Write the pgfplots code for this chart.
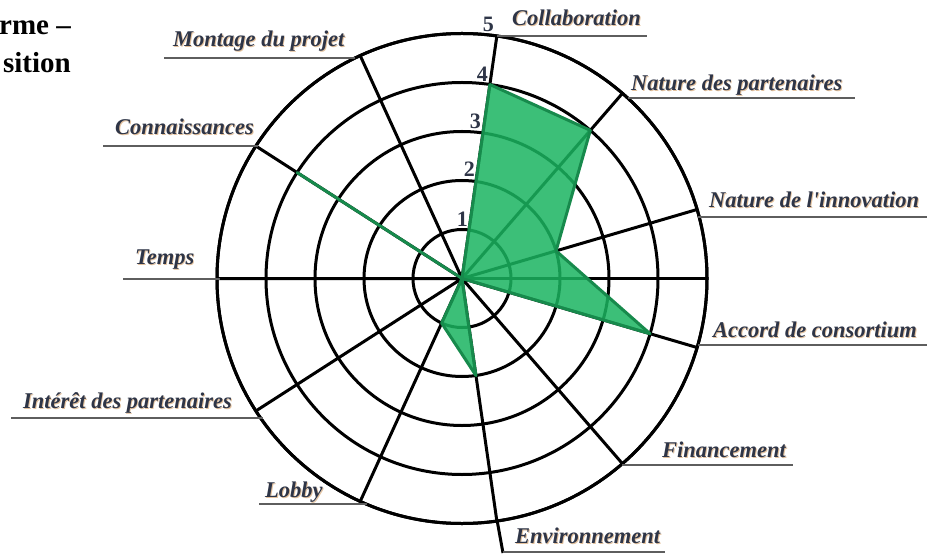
\documentclass[border=0pt]{standalone}
\usepackage{fontspec}
\setmainfont{Liberation Serif}
\usepackage{pgfplots}
\pgfplotsset{compat=1.18}
\usepgfplotslibrary{polar}

\definecolor{gfill}{HTML}{1AB460}
\definecolor{gedge}{HTML}{178A4C}
\definecolor{lblc}{HTML}{2E3547}
\definecolor{shc}{HTML}{C8843C}
\definecolor{ulc}{HTML}{5E5E5E}

% label with a faint orange shadow, anchored at its baseline
\newcommand\lab[3]{%
  \node[anchor=base west, inner sep=0pt, text=shc, opacity=0.5,
        font=\fontsize{22.5}{25}\selectfont\bfseries\itshape] at (#1+0.8,#2+0.8) {#3};
  \node[anchor=base west, inner sep=0pt, text=lblc,
        font=\fontsize{22.5}{25}\selectfont\bfseries\itshape] at (#1,#2) {#3};}
\newcommand\ringlab[3]{%
  \node[anchor=base east, inner sep=0pt, text=lblc,
        font=\fontsize{22}{24}\selectfont\bfseries] at (#1,#2) {#3};}

\begin{document}
\begin{tikzpicture}[x=1pt,y=1pt]
\path[use as bounding box] (0,0) rectangle (929,554);

\begin{polaraxis}[
  at={(462pt,275.5pt)}, anchor=center,
  scale only axis, width=490pt, height=490pt,
  xmin=0, xmax=360, ymin=0, ymax=5,
  xtick={81.818,49.091,16.364,343.636,310.909,278.182,245.455,212.727,180,147.273,114.545},
  ytick={1,2,3,4,5},
  xticklabels={,,,,,,,,,,,,}, yticklabels={,,,,,,},
  major tick length=0pt,
  grid=major,
  major grid style={black, line width=3pt},
  axis line style={black, line width=3pt},
]
% Collaboration, Nature des partenaires, Nature de l'innovation, Accord de consortium,
% Financement, Environnement, Lobby, Interet des partenaires, Temps, Connaissances, Montage du projet
\addplot[draw=gedge, fill=gfill, fill opacity=0.85, line width=3pt, line join=round, line cap=round]
  coordinates {(81.818,4) (49.091,4) (16.364,2) (343.636,4) (310.909,0) (278.182,2)
               (245.455,1) (212.727,0) (180,0) (147.273,4) (114.545,0) (81.818,4)};
\end{polaraxis}

\begin{scope}[yshift=554pt, yscale=-1]
  % spoke running on to the Environnement label
  \draw[black, line width=3pt] (497,520) -- (503,553);
  % underlines
  \begin{scope}[ulc, line width=2.5pt]
    \draw (497,36) -- (647,36);
    \draw (628,98) -- (855,98);
    \draw (698,217) -- (927,217);
    \draw (698,345) -- (927,345);
    \draw (622,465) -- (793,465);
    \draw (503,552) -- (665,552);
    \draw (259,504) -- (367,504);
    \draw (11,418) -- (263,418);
    \draw (123,279) -- (220,279);
    \draw (103,146) -- (258,146);
    \draw (164,58) -- (355,58);
  \end{scope}
  \lab{512}{26}{Collaboration}
  \lab{631}{91}{Nature des partenaires}
  \lab{709}{208}{Nature de l\textquotesingle innovation}
  \lab{713}{338}{Accord de consortium}
  \lab{662}{458}{Financement}
  \lab{515}{544}{Environnement}
  \lab{265}{498}{Lobby}
  \lab{23}{409}{Intérêt des partenaires}
  \lab{135}{265}{Temps}
  \lab{115}{135}{Connaissances}
  \lab{173}{47}{Montage du projet}
  \ringlab{494}{32}{5}
  \ringlab{488}{82}{4}
  \ringlab{481}{129}{3}
  \ringlab{475}{177}{2}
  \ringlab{468}{227}{1}
  % title, cut off at the left edge
  \node[anchor=base east, inner sep=0pt, font=\fontsize{29}{32}\selectfont\bfseries] at (71,35) {rme –};
  \node[anchor=base east, inner sep=0pt, font=\fontsize{29}{32}\selectfont\bfseries] at (71,73) {sition};
\end{scope}
\end{tikzpicture}
\end{document}
